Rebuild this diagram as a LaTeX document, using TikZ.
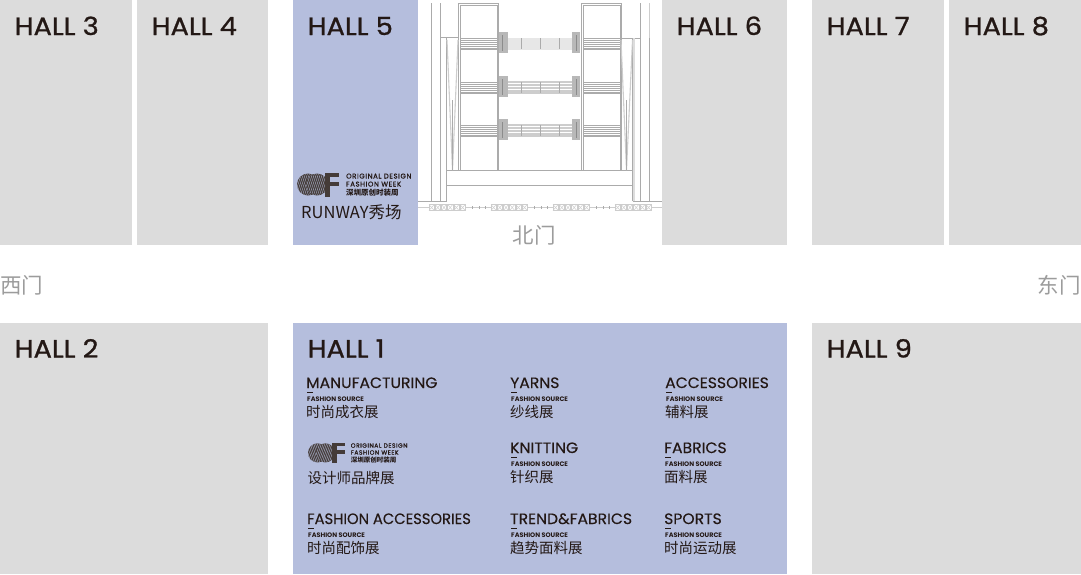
\documentclass[tikz,border=0pt]{standalone}
\usepackage{fontspec}
\usepackage{xcolor}
\usetikzlibrary{positioning}
\setmainfont{Poppins}
\newfontfamily\cjkfont{Noto Sans CJK SC}
\newfontfamily\hallfont{Poppins}[FakeBold=1, FakeStretch=1.09]
\newfontfamily\titlefont{Poppins}[FakeStretch=1.04, FakeBold=0.3]
\newfontfamily\logofont{Poppins}[LetterSpace=9, FakeBold=0.8]
\definecolor{hallgray}{HTML}{DCDCDC}
\definecolor{hallblue}{HTML}{B5BEDD}
\definecolor{inkdark}{HTML}{231815}
\definecolor{doorgray}{HTML}{9C9C9C}
\definecolor{planline}{HTML}{ABABAB}
\tikzset {
  % exhibition halls
  hall/.style={fill=hallgray},
  themed/.style={fill=hallblue},
  halllabel/.style={anchor=base west, inner sep=0pt, text=inkdark, font=\hallfont\fontsize{25}{25}\selectfont},
  % doors
  door/.style={inner sep=0pt, text=doorgray, font=\cjkfont\fontsize{21.5}{21.5}\selectfont},
  % floor plan of the entrance
  plan/.style={draw=planline, line width=1pt},
  planlight/.style={draw=planline!60, line width=1.1pt},
  % trade lists in hall 1
  tradetitle/.style={anchor=base west, inner sep=0pt, text=inkdark, font=\titlefont\fontsize{15}{15}\selectfont},
  tradesource/.style={anchor=base west, inner sep=0pt, text=inkdark, font=\bfseries\fontsize{6.5}{7}\selectfont},
  tradecn/.style={anchor=base west, inner sep=0pt, text=inkdark, font=\cjkfont\fontsize{14.5}{14.5}\selectfont},
  logotext/.style={anchor=base west, inner sep=0pt, text=inkdark, font=\logofont\fontsize{6.9}{7}\selectfont},
  logocn/.style={anchor=base west, inner sep=0pt, text=inkdark, font=\cjkfont\bfseries\fontsize{7.5}{7}\selectfont},
}
\begin{document}
\begin{tikzpicture}[x=1pt, y=-1pt]
  \useasboundingbox (0,0) rectangle (1081,574);

  % halls
  \foreach \id/\xa/\ya/\xb/\yb/\yt/\kind in {
    3/0/0/132/245/35/hall, 4/137/0/268/245/35/hall, 5/293/0/418/245/35/themed,
    6/662/0/787/245/35/hall, 7/812/0/944/245/35/hall, 8/949/0/1081/245/35/hall,
    2/0/323/268/574/357.5/hall, 1/293/323/787/574/357.5/themed, 9/812/323/1081/574/357.5/hall} {
    \fill[\kind] (\xa,\ya) rectangle (\xb,\yb);
    \node[halllabel] (hall\id) at (\xa+14.5,\yt) {HALL \id};
  }

  % doors
  \node[door] (north) at (534,235) {北门};
  \node[door] (west) at (21.5,285) {西门};
  \node[door] (east) at (1059,285) {东门};

  % towers
  \draw[plan] (458.3,3.3) rectangle (498.3,170.7);
  \draw[plan] (460,5) rectangle (497,170);
  \draw[plan] (581.3,3.3) rectangle (621.3,170.7);
  \draw[plan] (583,5) rectangle (620,170);

  % walls
  \foreach \x in {431,440,446.5,632.5,640.7,649.7} {
    \draw[plan] (\x,\ifdim\x pt<440.5pt 3\else 38\fi) -- (\x,201);
  }
  \draw[plan] (440,3) -- (440,37) -- (458.3,37);
  \draw[plan] (621.3,38) -- (640.7,38);
  \draw[plan] (640.7,3) -- (640.7,38);
  \draw[planlight] (649.7,3) -- (649.7,38);
  \fill[planline!40] (632.5,38) rectangle (635,201);
  \draw[plan] (447,170.7) -- (632.5,170.7);
  \draw[plan] (447,185) -- (632.5,185);
  \draw[plan] (418,201) -- (447,201);
  \draw[plan] (632.5,201) -- (662,201);
  \draw[planlight] (418,207.5) -- (662,207.5);
  \draw[planlight] (447,40) -- (452.5,170) -- (458,40);
  \draw[planlight] (621,40) -- (626.5,170) -- (632.5,40);
  \draw[plan] (452.5,170) -- (452.5,100);
  \draw[plan] (626.5,170) -- (626.5,100);

  % bridges
  \foreach \y [count=\i] in {38,82,125} {
    \ifnum\i=1
      \fill[hallgray!70] (508,\y) rectangle (572,\y+12);
    \else
      \foreach \k in {0,3,6,9,11} {\draw[planlight] (508,\y+\k) -- (572,\y+\k);}
    \fi
    \foreach \k in {0,2,4,6,8,10,11.5} {
      \draw[plan, line width=0.6pt] (460,\y+\k) -- (498,\y+\k);
      \draw[plan, line width=0.6pt] (583,\y+\k) -- (620,\y+\k);
    }
    \foreach \x in {521.3,540.3,559.3} {\draw[plan] (\x,\y) -- (\x,\y+11);}
    \fill[planline!85] (498.5,\y-6) rectangle (507.5,\y+15);
    \fill[planline!85] (571.5,\y-6) rectangle (580,\y+15);
    \draw[black!45, line width=0.7pt] (502,\y-3) -- (502,\y+13);
    \draw[black!45, line width=0.7pt] (576,\y-3) -- (576,\y+13);
  }

  % gate chain
  \foreach \xs in {429,491,553,615} {
    \foreach \k in {0,1,...,5} {
      \draw[planlight, line width=0.5pt, fill=white] (\xs+\k*6.2,204.5) rectangle (\xs+\k*6.2+5.2,210.5);
      \draw[planlight, line width=0.5pt] (\xs+\k*6.2,204.5) -- (\xs+\k*6.2+5.2,210.5);
      \draw[planlight, line width=0.5pt] (\xs+\k*6.2,210.5) -- (\xs+\k*6.2+5.2,204.5);
    }
  }
  \foreach \x in {472,479,485,534,541,547,596,603,609} {\draw[plan, line width=0.7pt] (\x,206) -- (\x,209);}

  % logo next to the runway
  \foreach \lx/\ly/\ls/\lid/\lcol in {297/172/1/a/inkdark, 308/442/0.87/b/inkdark} {
    \begin{scope}[shift={(\lx,\ly)}, scale=\ls, transform shape]
      \fill[\lcol!85] (11,12.5) circle (11);
      \begin{scope}
        \clip (11,12.5) circle (11);
        \foreach \k in {0,2,...,26} {\draw[hallblue, line width=0.35pt] (\k-4,0) -- (\k+4,25);}
      \end{scope}
      \fill[\lcol!85] (20,12.5) circle (11);
      \begin{scope}
        \clip (20,12.5) circle (11);
        \foreach \k in {10,12,...,34} {\draw[hallblue, line width=0.35pt] (\k+4,0) -- (\k-4,25);}
      \end{scope}
      \fill[\lcol!85] (28,1) rectangle (42,5);
      \fill[\lcol!85] (28,9.5) rectangle (42,13.5);
      \fill[\lcol!85] (28,1) rectangle (33,24.5);
      \node[logotext] (logoa\lid) at (49,6.5) {ORIGINAL DESIGN};
      \node[logotext] (logob\lid) at (49,14.5) {FASHION WEEK};
      \node[logocn] (logoc\lid) at (49,23) {深圳原创时装周};
    \end{scope}
  }
  \node[inner sep=0pt, anchor=base west, text=inkdark, font=\cjkfont\fontsize{16.5}{17}\selectfont] (runway) at (301,218) {RUNWAY秀场};
  \node[tradecn] (designer) at (307.5,483) {设计师品牌展};

  % trades
  \foreach \x/\y/\en/\cn [count=\i] in {
    306/388/MANUFACTURING/时尚成衣展, 510/388/YARNS/纱线展, 665/388/ACCESSORIES/辅料展,
    510/453/KNITTING/针织展, 664/453/FABRICS/面料展,
    307/524/{\scalebox{.945}[1]{FASHION ACCESSORIES}}/时尚配饰展, 510/524/TREND\&FABRICS/趋势面料展, 664/524/SPORTS/时尚运动展} {
    \begin{scope}[shift={(\x,\y)}]
      \node[tradetitle] (title\i) at (0,0) {\en};
      \draw[inkdark, line width=0.7pt] (1,4) -- (7,4);
      \node[tradesource] (source\i) at (1,13) {FASHION SOURCE};
      \node[tradecn] (trade\i) at (0,29) {\cn};
    \end{scope}
  }
\end{tikzpicture}
\end{document}
